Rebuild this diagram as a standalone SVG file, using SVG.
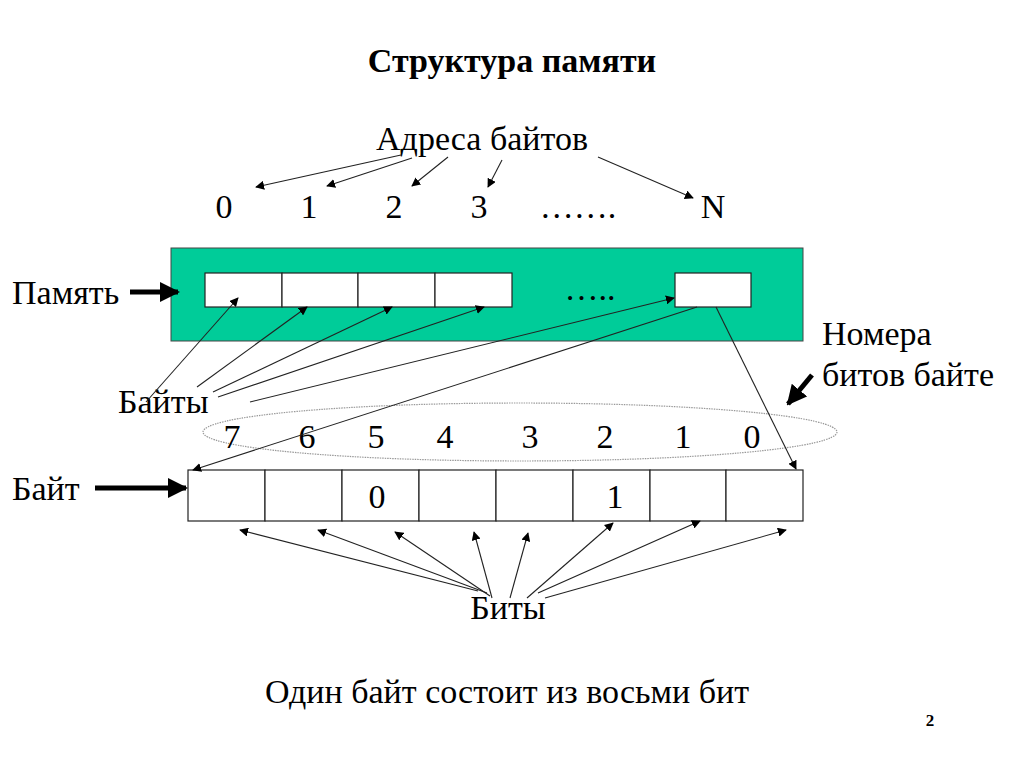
<svg xmlns="http://www.w3.org/2000/svg" width="1024" height="768" viewBox="0 0 1024 768">
<defs>
<marker id="ah" viewBox="0 0 10 10" refX="9" refY="5" markerWidth="9" markerHeight="9" markerUnits="userSpaceOnUse" orient="auto"><path d="M0,0 L10,5 L0,10 z" fill="#000"/></marker>
<marker id="bh" viewBox="0 0 10 10" refX="9" refY="5" markerWidth="4" markerHeight="4" orient="auto"><path d="M0,0 L10,5 L0,10 z" fill="#000"/></marker>
</defs>
<style>
text{font-family:"Liberation Serif","Times New Roman",serif;fill:#000}
.t{font-size:34px}
.c{fill:#fff;stroke:#222;stroke-width:1.2}
.ln{stroke:#222;stroke-width:1.1;fill:none;marker-end:url(#ah)}
.thick{stroke:#000;stroke-width:5;fill:none;marker-end:url(#bh)}
</style>
<rect width="1024" height="768" fill="#fff"/>
<text x="512" y="72" text-anchor="middle" class="t" font-weight="bold">Структура памяти</text>

<g id="addresses">
<text x="482" y="150" text-anchor="middle" class="t">Адреса байтов</text>
<text x="224" y="218" text-anchor="middle" class="t">0</text>
<text x="309" y="218" text-anchor="middle" class="t">1</text>
<text x="394" y="218" text-anchor="middle" class="t">2</text>
<text x="479" y="218" text-anchor="middle" class="t">3</text>
<text x="578" y="218" text-anchor="middle" class="t">…….</text>
<text x="713" y="218" text-anchor="middle" class="t">N</text>
</g>

<g id="memory">
<rect x="171" y="248" width="632" height="93" fill="#00CC99" stroke="#444" stroke-width="1"/>
<rect x="205" y="273" width="77" height="34" class="c"/>
<rect x="282" y="273" width="76" height="34" class="c"/>
<rect x="358" y="273" width="77" height="34" class="c"/>
<rect x="435" y="273" width="77" height="34" class="c"/>
<rect x="675" y="273" width="76" height="34" class="c"/>
<text x="590" y="300" text-anchor="middle" class="t">…..</text>
</g>
<g id="memory-label">
<text x="12" y="304" class="t">Память</text>
</g>

<g id="bytes-label"><text x="118" y="413" class="t">Байты</text></g>

<g id="bitnums-label">
<text x="822" y="345" class="t">Номера</text>
<text x="822" y="386" class="t">битов байте</text>
</g>

<g id="ellipse">
<ellipse cx="520" cy="432" rx="317" ry="29" fill="none" stroke="#999" stroke-width="1.2" stroke-dasharray="1.5 1"/>
<text x="232" y="448" text-anchor="middle" class="t">7</text>
<text x="307" y="448" text-anchor="middle" class="t">6</text>
<text x="376" y="448" text-anchor="middle" class="t">5</text>
<text x="445" y="448" text-anchor="middle" class="t">4</text>
<text x="530" y="448" text-anchor="middle" class="t">3</text>
<text x="605" y="448" text-anchor="middle" class="t">2</text>
<text x="683" y="448" text-anchor="middle" class="t">1</text>
<text x="752" y="448" text-anchor="middle" class="t">0</text>
</g>

<g id="byte">
<rect x="188" y="470" width="77" height="51" class="c"/>
<rect x="265" y="470" width="77" height="51" class="c"/>
<rect x="342" y="470" width="77" height="51" class="c"/>
<rect x="419" y="470" width="77" height="51" class="c"/>
<rect x="496" y="470" width="77" height="51" class="c"/>
<rect x="573" y="470" width="77" height="51" class="c"/>
<rect x="650" y="470" width="76" height="51" class="c"/>
<rect x="726" y="470" width="77" height="51" class="c"/>
<text x="377" y="508" text-anchor="middle" class="t">0</text>
<text x="615" y="508" text-anchor="middle" class="t">1</text>
</g>
<g id="byte-label"><text x="12" y="500" class="t">Байт</text></g>

<g id="bits-label"><text x="508" y="619" text-anchor="middle" class="t">Биты</text></g>

<g id="connectors">
<line x1="401" y1="155" x2="256" y2="187" class="ln"/>
<line x1="412" y1="158" x2="327" y2="186" class="ln"/>
<line x1="448" y1="157" x2="412" y2="186" class="ln"/>
<line x1="502" y1="160" x2="488" y2="187" class="ln"/>
<line x1="598" y1="157" x2="693" y2="198" class="ln"/>

<line x1="130" y1="292" x2="178" y2="292" class="thick"/>
<line x1="95" y1="488" x2="186" y2="488" class="thick"/>
<line x1="812" y1="375" x2="788" y2="404" class="thick"/>

<line x1="146" y1="402" x2="238" y2="298" class="ln"/>
<line x1="197" y1="387" x2="307" y2="307" class="ln"/>
<line x1="213" y1="392" x2="392" y2="307" class="ln"/>
<line x1="218" y1="397" x2="484" y2="307" class="ln"/>
<line x1="250" y1="402" x2="674" y2="298" class="ln"/>
<line x1="697" y1="307" x2="193" y2="470" class="ln"/>
<line x1="716" y1="307" x2="796" y2="469" class="ln"/>

<line x1="478" y1="591" x2="240" y2="530" class="ln"/>
<line x1="487" y1="593" x2="318" y2="530" class="ln"/>
<line x1="490" y1="596" x2="395" y2="532" class="ln"/>
<line x1="492" y1="598" x2="474" y2="532" class="ln"/>
<line x1="510" y1="598" x2="528" y2="533" class="ln"/>
<line x1="527" y1="598" x2="613" y2="523" class="ln"/>
<line x1="538" y1="593" x2="700" y2="521" class="ln"/>
<line x1="545" y1="598" x2="786" y2="530" class="ln"/>
</g>

<text x="507" y="703" text-anchor="middle" class="t">Один байт состоит из восьми бит</text>
<text x="930" y="726" text-anchor="middle" font-size="17" font-weight="bold">2</text>
</svg>
